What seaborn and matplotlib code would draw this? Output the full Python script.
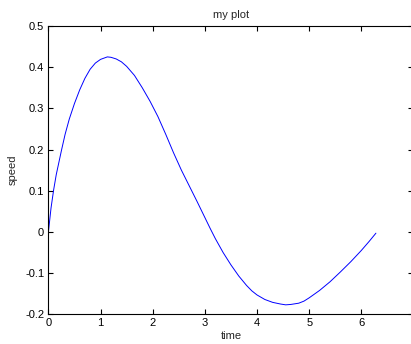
import matplotlib
matplotlib.use("Agg")
import matplotlib.pyplot as plt
import seaborn as sns
import pandas as pd

# sampled speed over time
time = [0.0, 0.05, 0.1, 0.15, 0.25, 0.32, 0.4, 0.5, 0.6, 0.7, 0.8, 0.9, 1.0,
        1.13, 1.2, 1.3, 1.4, 1.5, 1.65, 1.8, 1.95, 2.1, 2.25, 2.4, 2.55, 2.7,
        2.85, 3.0, 3.1, 3.2, 3.35, 3.5, 3.65, 3.8, 3.9, 4.0, 4.15, 4.3, 4.45,
        4.55, 4.65, 4.8, 4.9, 5.0, 5.2, 5.4, 5.6, 5.8, 6.0, 6.15, 6.28]
speed = [0.0, 0.058, 0.102, 0.139, 0.198, 0.237, 0.274, 0.312, 0.345, 0.373,
         0.395, 0.410, 0.419, 0.425, 0.424, 0.420, 0.413, 0.402, 0.380, 0.350,
         0.317, 0.280, 0.237, 0.192, 0.150, 0.112, 0.074, 0.035, 0.009, -0.016,
         -0.05, -0.08, -0.107, -0.130, -0.143, -0.153, -0.164, -0.171, -0.175,
         -0.177, -0.176, -0.173, -0.168, -0.160, -0.142, -0.121, -0.097,
         -0.072, -0.045, -0.023, -0.003]

x_ticks = [0, 1, 2, 3, 4, 5, 6]
y_ticks = [-0.2, -0.1, 0, 0.1, 0.2, 0.3, 0.4, 0.5]
y_tick_labels = ["-0.2", "-0.1", "0", "0.1", "0.2", "0.3", "0.4", "0.5"]

sns.set_style("ticks")
plt.rcParams["font.family"] = ["Liberation Sans", "DejaVu Sans"]

df = pd.DataFrame({"time": time, "speed": speed})

fig = plt.figure(figsize=(4.11, 3.44), dpi=100)
ax = fig.add_axes([0.1178, 0.0863, 0.8882, 0.8381])
sns.lineplot(data=df, x="time", y="speed", ax=ax, color="#0000ff",
             linewidth=0.7, sort=False)

ax.set_xlim(0, 7)
ax.set_ylim(-0.2, 0.5)
ax.set_xticks(x_ticks)
ax.set_yticks(y_ticks)
ax.set_yticklabels(y_tick_labels)
ax.tick_params(direction="in", length=3.5, width=0.8, labelsize=8,
               top=True, right=True, colors="black", pad=3)
for s in ax.spines.values():
    s.set_visible(True)
    s.set_linewidth(0.8)
    s.set_color("black")

ax.set_title("my plot", fontsize=8, pad=6)
ax.set_xlabel("time", fontsize=8, labelpad=2)
ax.set_ylabel("speed", fontsize=8, labelpad=5)

fig.savefig("out.png", dpi=100)
